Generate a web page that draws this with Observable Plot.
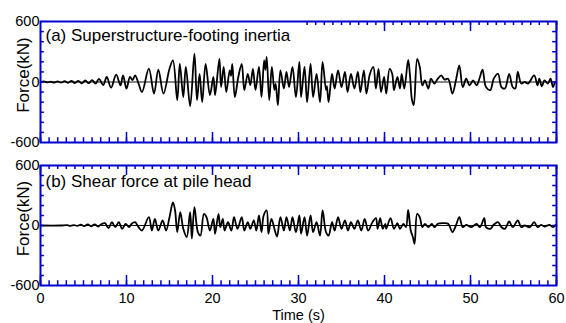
<!DOCTYPE html>
<html>
<head>
<meta charset="utf-8">
<script src="https://cdn.jsdelivr.net/npm/d3@7"></script>
<script src="https://cdn.jsdelivr.net/npm/@observablehq/plot@0.6"></script>
<style>
  body { margin: 0; background: white; }
  #chart svg { display: block; }
</style>
</head>
<body>
<div id="chart"></div>
<script>
// ---- Data ----
const titleA = "(a) Superstructure-footing inertia";
const titleB = "(b) Shear force at pile head";
const xLabel = "Time (s)";
const yLabel = "Force(kN)";
const xTickLabels = [0, 10, 20, 30, 40, 50, 60];
const yTickLabels = [600, 0, -600];

// Panel (a): time (s) of turning points and force (kN)
const timeA = [0,0.4,0.8,1.2,1.6,2.0,2.4,2.8,3.2,3.6,4.0,4.4,4.8,5.2,5.6,6.0,6.4,6.8,7.3,7.7,8.2,8.8,9.3,9.6,10.0,10.4,10.7,11.0,11.4,11.8,12.6,13.2,13.7,14.3,15.0,15.4,15.9,16.2,16.6,16.9,17.4,17.9,18.2,18.5,18.8,19.2,19.7,20.1,20.3,20.8,21.0,21.3,21.6,22.0,22.15,22.3,22.6,23.0,23.4,23.7,24.1,24.4,24.7,25.0,25.4,25.7,26.0,26.15,26.3,26.6,26.9,27.2,27.35,27.6,27.9,28.3,28.6,28.9,29.3,29.7,30.1,30.3,30.7,31.0,31.4,31.7,32.1,32.5,32.8,33.2,33.3,33.5,33.9,34.2,34.6,35.0,35.4,35.7,36.1,36.5,36.9,37.2,37.6,37.9,38.3,38.7,39.0,39.3,39.6,39.95,40.2,40.6,40.9,41.1,41.5,41.8,42.0,42.3,42.75,42.95,43.2,43.4,43.8,44.1,44.4,44.7,45.1,45.4,45.8,46.2,46.6,47.0,47.4,47.9,48.3,48.7,49.1,49.5,49.9,50.3,50.7,51.1,51.4,51.8,52.3,52.7,53.2,53.6,54.0,54.5,54.9,55.2,55.5,55.9,56.3,56.7,57.4,57.8,58.0,58.3,58.6,59.0,59.3,59.6,59.85,60];
const forceA = [0,5,-4,4,-5,6,-6,8,-8,10,-10,12,-14,15,-12,18,-15,30,-30,50,-56,73,-33,66,-66,50,20,66,-15,-100,132,-115,122,-115,132,215,-180,180,-150,150,-240,280,-180,80,-200,180,-130,50,-130,230,-50,150,-100,115,60,180,-150,50,180,-80,80,-30,130,-80,150,-150,215,120,250,-180,150,-80,-20,-230,115,-65,100,-50,150,-150,200,-150,150,-200,180,-150,80,-200,200,-80,-40,-200,80,-65,115,-50,100,-100,80,-65,100,-100,115,-115,80,150,-65,130,-100,50,-115,130,80,-80,50,-65,80,-65,220,80,-180,-230,230,150,-33,15,-65,33,-15,33,65,23,33,-115,15,165,-50,33,-33,15,-33,50,122,-50,-80,33,80,-50,-65,80,-50,-65,100,-15,0,-15,65,-33,33,-43,15,-15,33,-50,0,-10];

// Panel (b)
const timeB = [0,2.3,3.1,3.5,3.9,4.3,4.7,5.1,5.5,5.9,6.3,6.7,7.1,7.5,7.9,8.3,8.7,9.1,9.5,9.9,10.3,10.6,11.0,11.4,11.8,12.6,12.95,13.3,13.7,14.2,14.6,15.0,15.4,15.65,15.9,16.25,16.6,17.0,17.4,17.6,17.9,18.3,18.6,19.0,19.3,19.7,20.1,20.3,20.7,20.9,21.2,21.4,21.8,22.2,22.5,22.9,23.4,23.7,24.1,24.4,24.8,25.1,25.4,25.7,25.95,26.3,26.5,26.85,27.2,27.5,27.9,28.3,28.6,29.0,29.3,29.7,30.1,30.3,30.7,31.0,31.4,31.7,32.1,32.5,32.8,33.2,33.5,33.9,34.2,34.6,35.0,35.4,35.75,36.1,36.5,36.9,37.3,37.7,38.1,38.6,39.0,39.2,39.5,39.8,40.1,40.2,40.7,41.1,41.5,41.8,42.2,42.5,42.75,43.05,43.3,43.5,43.8,44.1,44.4,44.7,45.1,45.5,45.8,46.2,46.8,47.4,47.9,48.3,48.7,49.1,49.5,50.1,50.7,51.1,51.6,51.8,52.3,52.7,53.2,53.6,54.0,54.5,54.9,55.5,55.9,56.3,56.9,57.4,57.8,58.2,58.6,59.2,59.6,59.95,60];
const forceB = [0,0,3,-3,4,-4,8,-6,10,-8,12,-10,15,23,-27,33,-17,33,-33,17,-17,17,33,-17,-50,83,-50,66,-50,50,-50,83,230,150,-66,133,-33,-115,133,-130,183,-66,-100,115,83,-50,66,-83,115,-17,66,-50,33,-50,83,-33,83,-50,33,-33,50,-50,100,-66,100,150,-83,66,-33,-110,83,-50,83,-50,83,-66,100,-83,83,-100,100,-66,33,-100,150,-66,-100,33,-50,83,-33,50,-50,33,-33,50,-50,66,-50,33,73,-33,73,-33,17,-33,73,-33,23,-33,17,-17,156,-50,-116,-183,116,83,-17,17,-17,17,-17,17,23,17,-66,0,83,-17,7,-17,17,-17,73,-17,-33,7,33,-17,-33,40,-17,50,-17,0,-17,33,-17,7,-10,7,-17,7,0];

// ---- Drawing ----
const blue = "#0000cc";
const font = "'Liberation Sans', Arial, Helvetica, sans-serif";
const minorX = d3.range(0, 61, 1);
const minorY = d3.range(-500, 501, 100);

function panel(times, values, title, o) {
  const data = times.map((t, i) => ({t, v: values[i]}));
  const topMinor = minorX.filter(d => d >= o.topStart);
  const topMajor = xTickLabels.filter(d => d >= o.topStart);
  const marks = [
    Plot.ruleY([0], {stroke: "#111", strokeWidth: 1}),
    Plot.line(data, {x: "t", y: "v", stroke: "black", strokeWidth: 1.8, strokeLinejoin: "round", curve: "catmull-rom"}),
    // inward ticks
    Plot.ruleX(minorX, {x: d => d, y1: -600, y2: -552, stroke: blue, strokeWidth: 1.5}),
    Plot.ruleX(xTickLabels, {x: d => d, y1: -600, y2: -500, stroke: blue, strokeWidth: 1.5}),
    Plot.ruleX(topMinor, {x: d => d, y1: 600, y2: 560, stroke: blue, strokeWidth: 1.5}),
    Plot.ruleX(topMajor, {x: d => d, y1: 600, y2: 500, stroke: blue, strokeWidth: 1.5}),
    Plot.ruleY(minorY, {y: d => d, x1: 0, x2: 0.45, stroke: blue, strokeWidth: 1.5}),
    Plot.ruleY(minorY, {y: d => d, x1: 60, x2: 59.55, stroke: blue, strokeWidth: 1.5}),
    Plot.frame({stroke: blue, strokeWidth: 2}),
    Plot.text([title], {frameAnchor: "top-left", textAnchor: "start", lineAnchor: "top", dx: 5, dy: o.titleDy, fontSize: 17, fill: "black"}),
    Plot.text([yLabel], {frameAnchor: "left", rotate: -90, textAnchor: "middle", lineAnchor: "middle", dx: -17, dy: -7, fontSize: 17, fill: "black"})
  ];
  if (o.xAxis) {
    marks.push(Plot.text([xLabel], {frameAnchor: "bottom", lineAnchor: "middle", dy: 30, fontSize: 14.5, fill: "black"}));
  }
  return Plot.plot({
    width: 566,
    height: o.height,
    marginLeft: 40,
    marginRight: 10,
    marginTop: o.mt,
    marginBottom: o.mb,
    style: {fontFamily: font, fontSize: "14.5px", color: "black", background: "white", overflow: "visible"},
    x: o.xAxis
      ? {domain: [0, 60], ticks: xTickLabels, tickSize: 0, tickPadding: 7, tickFormat: d => String(d), label: null}
      : {domain: [0, 60], axis: null},
    y: {domain: [-600, 600], ticks: yTickLabels, tickSize: 0, tickPadding: 1, tickFormat: d => String(d), label: null},
    marks
  });
}

const chart = document.getElementById("chart");
chart.append(panel(timeA, forceA, titleA, {height: 150, mt: 21, mb: 8, topStart: 31, titleDy: 7, xAxis: false}));
chart.append(panel(timeB, forceB, titleB, {height: 173, mt: 15, mb: 38, topStart: 0, titleDy: 9, xAxis: true}));
</script>
</body>
</html>
